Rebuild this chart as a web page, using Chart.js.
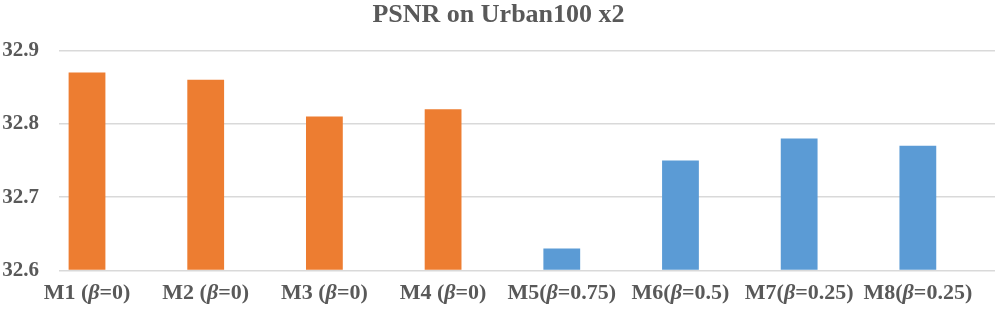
<!DOCTYPE html>
<html>
<head>
<meta charset="utf-8">
<script src="https://cdn.jsdelivr.net/npm/chart.js@4"></script>
<style>
  html, body { margin: 0; padding: 0; background: #fff; }
  #wrap { width: 996px; height: 315px; }
</style>
</head>
<body>
<div id="wrap"><canvas id="psnr-chart"></canvas></div>
<script>
// Chart data
const models = ['M1', 'M2', 'M3', 'M4', 'M5', 'M6', 'M7', 'M8'];
const betas = ['0', '0', '0', '0', '0.75', '0.5', '0.25', '0.25'];
const psnr = [32.87, 32.86, 32.81, 32.82, 32.63, 32.75, 32.78, 32.77];
const yTicks = [32.6, 32.7, 32.8, 32.9];

const textColor = '#595959';
const serif = "'Liberation Serif', 'Times New Roman', serif";

// x labels are drawn by hand so the beta can be italic
const xLabelsPlugin = {
  id: 'xLabels',
  afterDraw(chart) {
    const ctx = chart.ctx;
    const xScale = chart.scales.x;
    const y = chart.chartArea.bottom + 28.5;
    ctx.save();
    ctx.fillStyle = textColor;
    ctx.textBaseline = 'alphabetic';
    ctx.textAlign = 'left';
    models.forEach((m, i) => {
      const gap = i < 4 ? ' (' : '(';
      const parts = [
        { t: m + gap, f: 'bold 22px ' + serif },
        { t: 'β', f: 'italic bold 22px ' + serif },
        { t: '=' + betas[i] + ')', f: 'bold 22px ' + serif },
      ];
      let total = 0;
      parts.forEach(p => { ctx.font = p.f; p.w = ctx.measureText(p.t).width; total += p.w; });
      let x = xScale.getPixelForValue(i) - total / 2;
      parts.forEach(p => { ctx.font = p.f; ctx.fillText(p.t, x, y); x += p.w; });
    });
    ctx.restore();
  }
};

new Chart(document.getElementById('psnr-chart'), {
  type: 'bar',
  data: {
    datasets: [{
      data: psnr.map((v, i) => ({ x: i, y: v })),
      backgroundColor: (c) => c.dataIndex < 4 ? '#ED7D31' : '#5B9BD5',
      base: 32.6,
      categoryPercentage: 1,
      barPercentage: 0.31,
    }]
  },
  options: {
    responsive: true,
    maintainAspectRatio: false,
    animation: false,
    layout: { padding: { left: 2, right: 1, top: 0, bottom: 36.5 } },
    plugins: {
      legend: { display: false },
      tooltip: { enabled: false },
      title: {
        display: true,
        text: 'PSNR on Urban100 x2',
        color: textColor,
        font: { family: serif, size: 26, weight: 'bold', lineHeight: 1.2 },
        padding: { top: 0, bottom: 19.3 },
      },
    },
    scales: {
      x: {
        type: 'linear',
        offset: false,
        min: -0.236,
        max: 7.65,
        afterBuildTicks: (axis) => { axis.ticks = models.map((m, i) => ({ value: i })); },
        ticks: { display: false },
        grid: { display: false },
        border: { display: false },
      },
      y: {
        min: 32.6,
        max: 32.9,
        afterBuildTicks: (axis) => { axis.ticks = yTicks.map(v => ({ value: v })); },
        afterFit: (axis) => { axis.width = 57; },
        ticks: {
          color: textColor,
          padding: 20,
          font: { family: serif, size: 21, weight: 'bold' },
          callback: (v) => v.toFixed(1),
        },
        grid: { color: '#d9d9d9', lineWidth: 1.5, drawTicks: false },
        border: { display: false },
      },
    },
  },
  plugins: [xLabelsPlugin],
});
</script>
</body>
</html>
